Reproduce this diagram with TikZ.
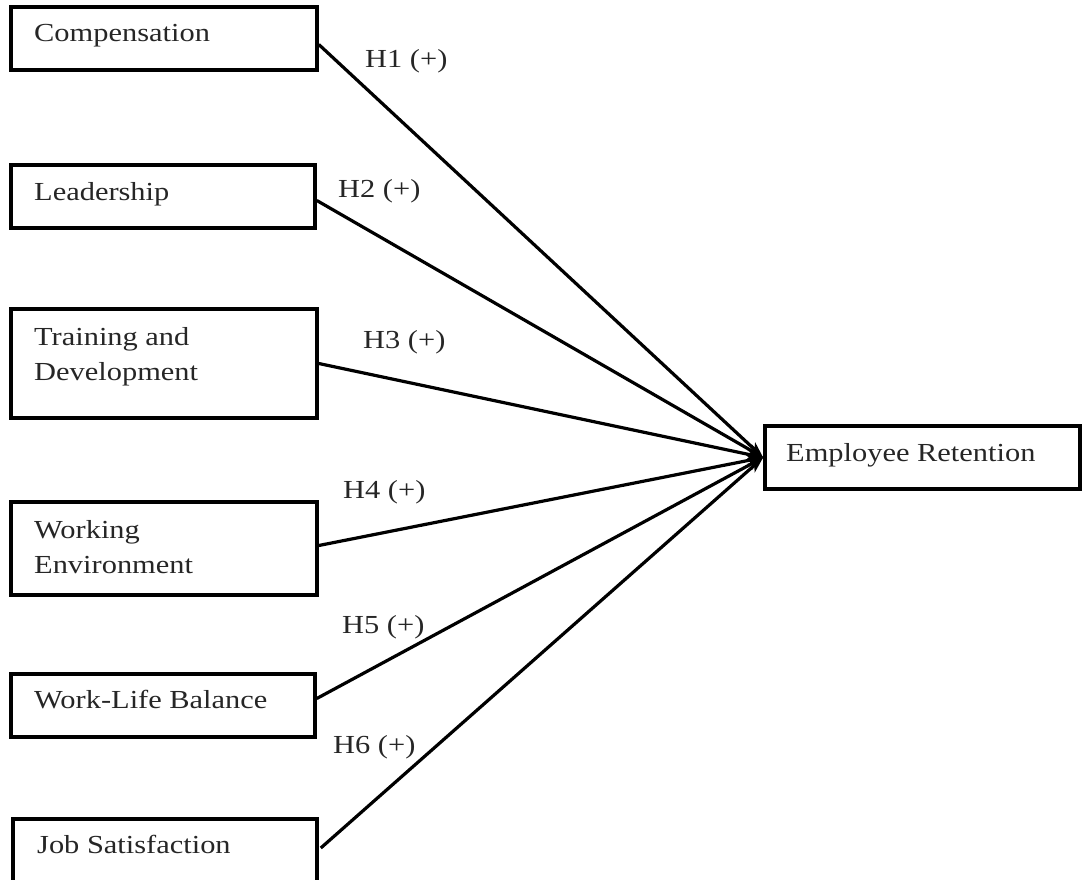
\documentclass[tikz,border=0pt]{standalone}
\usepackage{fontspec}
\setmainfont[FakeStretch=1.17]{Liberation Serif}
\usetikzlibrary{arrows.meta}
\begin{document}
\begin{tikzpicture}[x=1pt,y=-1pt,
  box/.style={draw=black,line width=3.6pt,rectangle,inner sep=0pt,fill=none},
  txt/.style={inner sep=0pt,font=\fontsize{26}{35}\selectfont,text=black!85,align=left},
  hyp/.style={inner sep=0pt,font=\fontsize{26}{35}\selectfont,text=black!85,anchor=base west},
  conn/.style={line width=3.2pt,-{Stealth[length=16pt,width=11pt,inset=4pt]}}]
\clip (0,0) rectangle (1084,880);
\useasboundingbox (0,0) rectangle (1084,880);
% boxes
\node[box,minimum width=306pt,minimum height=63pt] (comp) at (164,38.5) {};
\node[box,minimum width=304pt,minimum height=63pt] (lead) at (163,196.5) {};
\node[box,minimum width=306pt,minimum height=109pt] (train) at (164,363.5) {};
\node[box,minimum width=306pt,minimum height=93pt] (work) at (164,548.5) {};
\node[box,minimum width=304pt,minimum height=63pt] (wlb) at (163,705.5) {};
\node[box,minimum width=304pt,minimum height=70pt] (job) at (165,854) {};
\node[box,minimum width=315pt,minimum height=63pt] (er) at (922.5,457.5) {};
% texts
\node[txt,anchor=base west] (tcomp) at (34,42) {Compensation};
\node[txt,anchor=base west] (tlead) at (34,200) {Leadership};
\node[txt,anchor=north west] (ttrain) at (34,327) {Training and\\Development};
\node[txt,anchor=north west] (twork) at (34,520) {Working\\Environment};
\node[txt,anchor=base west] (twlb) at (34,708) {Work-Life Balance};
\node[txt,anchor=base west] (tjob) at (37,853) {Job Satisfaction};
\node[txt,anchor=base west] (ter) at (786,461) {Employee Retention};
% connectors
\draw[conn] ([yshift=-6pt]comp.east) -- (er.west);
\draw[conn] ([yshift=-4pt]lead.east) -- (er.west);
\draw[conn] (train.east) -- (er.west);
\draw[conn] ([yshift=3pt]work.east) -- (er.west);
\draw[conn] ([yshift=7pt]wlb.east) -- (er.west);
\draw[conn] ([xshift=2pt,yshift=6pt]job.east) -- (er.west);
% labels
\node[hyp] (h1) at (365,68) {H1 (+)};
\node[hyp] (h2) at (338,197) {H2 (+)};
\node[hyp] (h3) at (363,348) {H3 (+)};
\node[hyp] (h4) at (343,498) {H4 (+)};
\node[hyp] (h5) at (342,633) {H5 (+)};
\node[hyp] (h6) at (333,753) {H6 (+)};
\end{tikzpicture}
\end{document}
